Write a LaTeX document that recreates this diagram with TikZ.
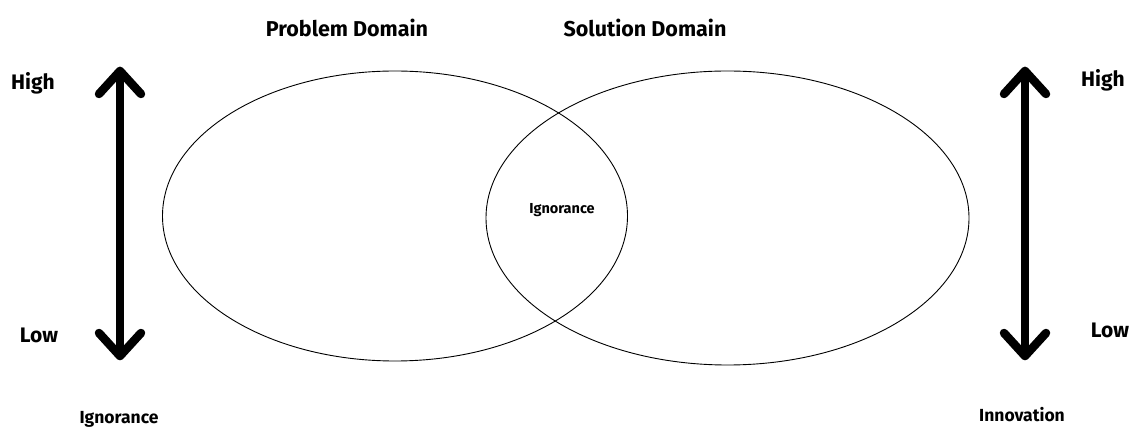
\documentclass[tikz,border=0pt]{standalone}
\usepackage{fontspec}
\setmainfont{Fira Sans}
\usetikzlibrary{shapes.geometric}
\begin{document}
\begin{tikzpicture}[x=1pt,y=-1pt,
  domainbox/.style={draw=black,line width=0.9pt,ellipse,inner sep=0pt},
  bigarrow/.style={line width=8.5pt,line cap=round,line join=round},
  titletext/.style={font=\bfseries\fontsize{21.5}{26}\selectfont,inner sep=0pt},
  leveltext/.style={font=\bfseries\fontsize{21}{25}\selectfont,inner sep=0pt},
  axistext/.style={font=\bfseries\fontsize{17.5}{21}\selectfont,inner sep=0pt},
  smalltext/.style={font=\bfseries\fontsize{14.5}{17}\selectfont,inner sep=0pt}]
\useasboundingbox (0,0) rectangle (1144,435);
% ellipses
\node[domainbox,minimum width=465pt,minimum height=290pt] (prob) at (395,216) {};
\node[domainbox,minimum width=483pt,minimum height=294pt] (sol) at (727.5,218) {};
% titles
\node[titletext] (tprob) at (347,28) {Problem Domain};
\node[titletext] (tsol) at (645,28) {Solution Domain};
\node[smalltext] (ign) at (562,210) {Ignorance};
% left arrow
\coordinate (lt) at (120,71);
\coordinate (lb) at (120,356);
\coordinate (lta) at (99,94);
\coordinate (ltb) at (141,94);
\coordinate (lba) at (99,333);
\coordinate (lbb) at (141,333);
\draw[bigarrow] (lt) -- (lb);
\draw[bigarrow] (lta) -- (lt) -- (ltb);
\draw[bigarrow] (lba) -- (lb) -- (lbb);
% right arrow
\coordinate (rt) at (1025,71);
\coordinate (rb) at (1025,356);
\coordinate (rta) at (1004,94);
\coordinate (rtb) at (1046,94);
\coordinate (rba) at (1004,333);
\coordinate (rbb) at (1046,333);
\draw[bigarrow] (rt) -- (rb);
\draw[bigarrow] (rta) -- (rt) -- (rtb);
\draw[bigarrow] (rba) -- (rb) -- (rbb);
% level labels
\node[leveltext] (lhigh) at (33,83) {High};
\node[leveltext] (llow) at (39,335) {Low};
\node[leveltext] (rhigh) at (1103,80) {High};
\node[leveltext] (rlow) at (1110,330) {Low};
% axis labels
\node[axistext] (lign) at (119,419) {Ignorance};
\node[axistext] (rinn) at (1022,415) {Innovation};
\end{tikzpicture}
\end{document}
